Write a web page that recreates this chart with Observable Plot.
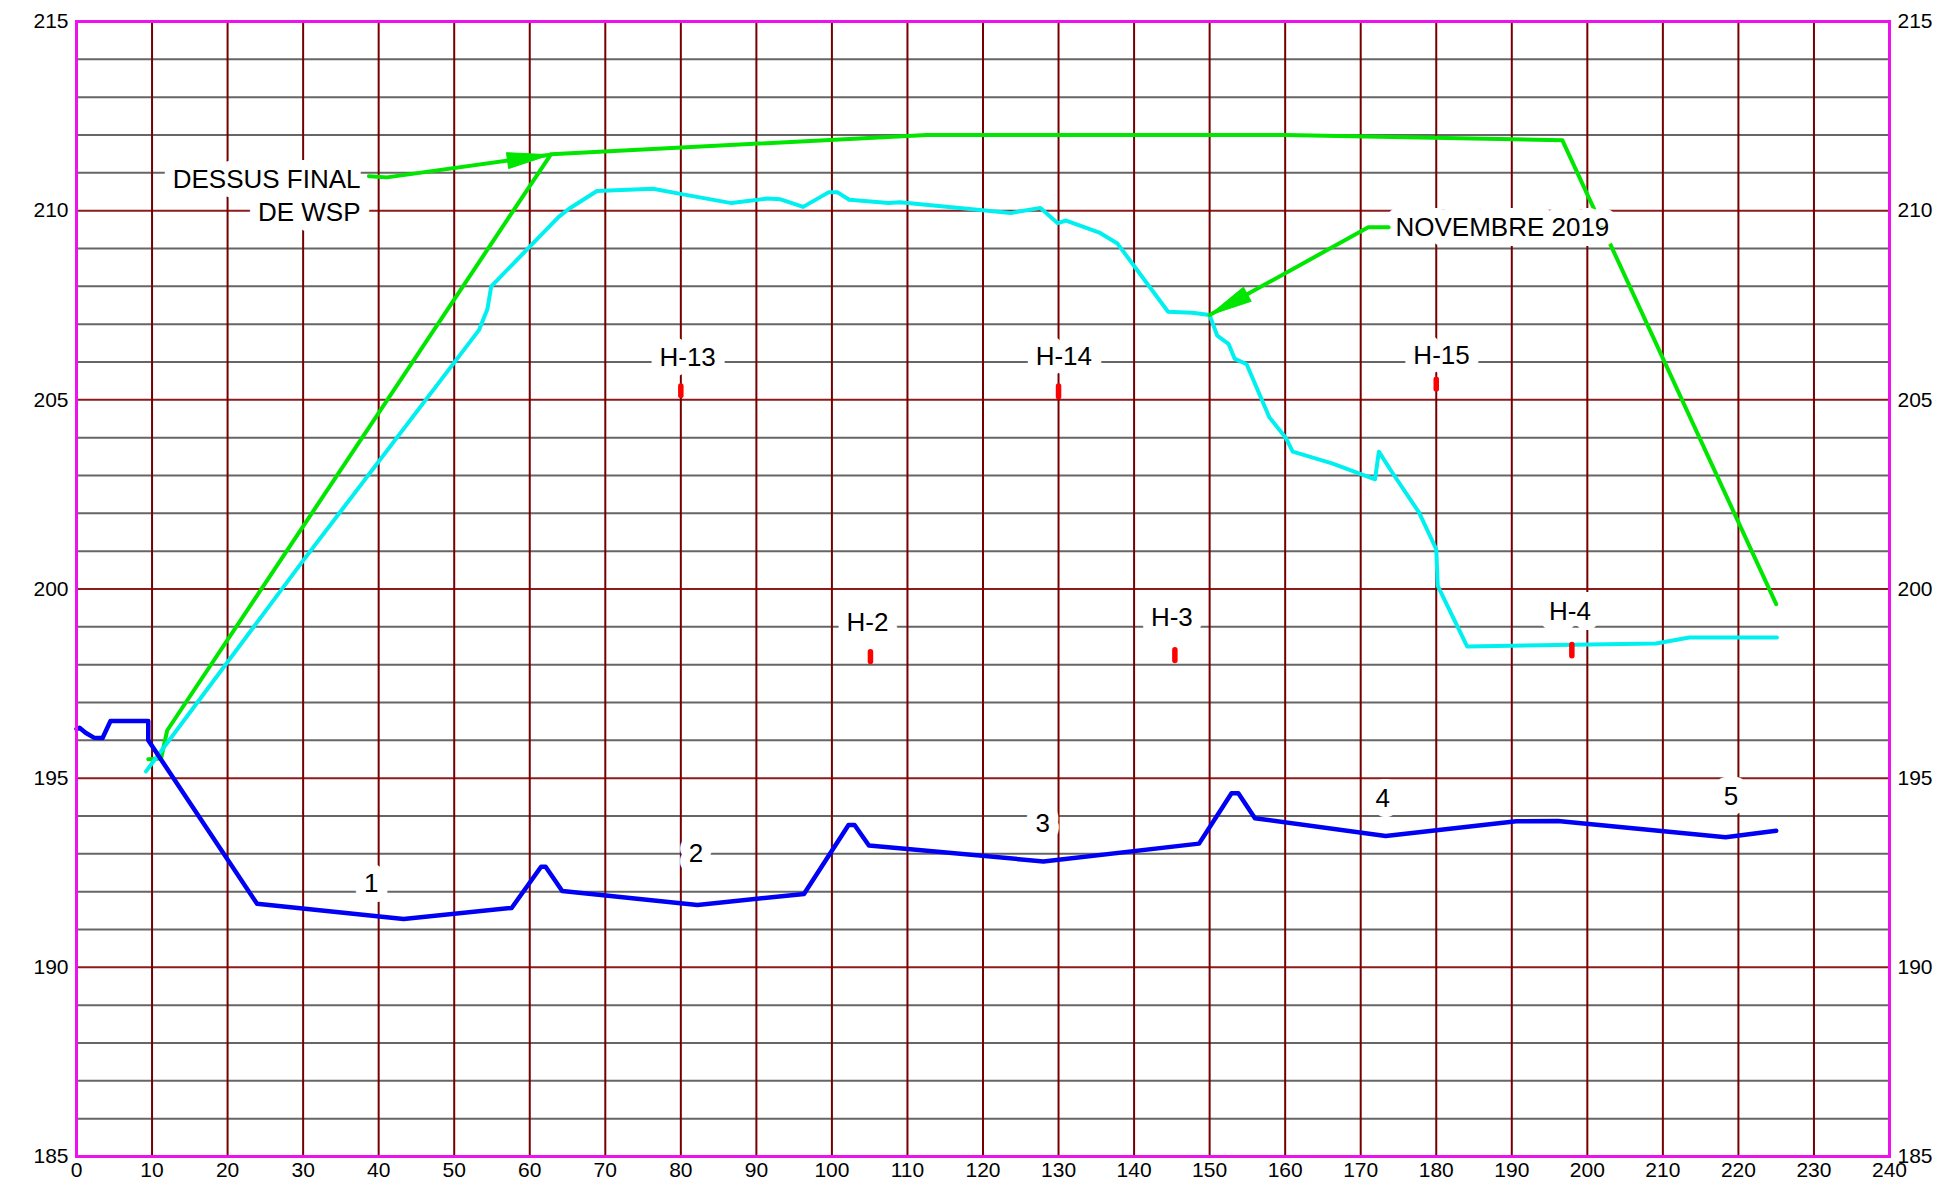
<!DOCTYPE html>
<html><head><meta charset="utf-8">
<script src="https://cdn.jsdelivr.net/npm/d3@7"></script>
<script src="https://cdn.jsdelivr.net/npm/@observablehq/plot@0.6"></script>
<style>body{margin:0;background:#fff}</style>
</head><body><div id="chart"></div>
<script>
// ---------- data ----------
const xTickValues = [0,10,20,30,40,50,60,70,80,90,100,110,120,130,140,150,160,170,180,190,200,210,220,230,240];
const yTickValues = [185,190,195,200,205,210,215];
const yMinorGrid = [186,187,188,189,191,192,193,194,196,197,198,199,201,202,203,204,206,207,208,209,211,212,213,214];
const yMajorGrid = [190,195,200,205,210];
const xGrid = [10,20,30,40,50,60,70,80,90,100,110,120,130,140,150,160,170,180,190,200,210,220,230];

// ground profile (blue)
const groundX = [0,0.4,1.2,2.3,3.45,4.5,9.5,9.5,23.9,43.3,57.6,61.5,62.1,64.3,82.2,96.3,102.2,103.0,104.9,128.0,148.6,152.9,153.8,156.0,173.3,190.6,196.1,218.3,225.0];
const groundY = [196.3,196.33,196.2,196.07,196.06,196.51,196.51,196.0,191.68,191.28,191.57,192.66,192.66,192.02,191.65,191.94,193.76,193.76,193.22,192.8,193.27,194.6,194.6,193.94,193.47,193.86,193.87,193.44,193.61];

// final top of WSP (green)
const finalX = [9.5,11.2,12.0,62.8,112.6,160.0,196.7,225.0];
const finalY = [195.5,195.52,196.26,211.49,212.0,212.0,211.86,199.6];

// November 2019 survey (cyan)
const novX = [9.2,30.0,53.3,54.4,54.9,63.8,65.2,68.9,76.3,80.3,86.7,91.4,93.2,96.2,99.6,100.7,102.3,107.5,109.0,123.7,127.6,129.9,131.0,135.5,137.8,144.5,147.7,150.0,151.0,152.5,153.3,154.9,157.9,160.1,161.0,166.2,171.9,172.4,174.3,177.7,180.0,180.2,184.1,209.1,213.5,225.1];
const novY = [195.18,200.75,206.85,207.4,208.0,209.83,210.05,210.52,210.58,210.43,210.2,210.32,210.3,210.1,210.49,210.49,210.29,210.2,210.22,209.94,210.07,209.67,209.74,209.41,209.13,207.33,207.3,207.24,206.7,206.48,206.09,205.94,204.54,203.99,203.63,203.32,202.9,203.63,203.04,202.03,201.05,200.08,198.48,198.56,198.72,198.72];

// boreholes
const boreholeNames = ["H-13","H-14","H-15","H-2","H-3","H-4"];
const boreholeX = [80,130,180,105.1,145.4,197.95];
const boreholeTop = [205.35,205.35,205.53,198.33,198.38,198.52];
const boreholeBottom = [205.1,205.07,205.27,198.07,198.1,198.22];
const boreholeLabelX = [80.9,130.7,180.7,104.7,145.0,197.7];
const boreholeLabelY = [206.11,206.13,206.17,199.11,199.25,199.41];

// section numbers
const sectionNames = ["1","2","3","4","5"];
const sectionX = [39.0,82.0,127.9,172.9,219.0];
const sectionY = [192.2,193.0,193.8,194.45,194.5];

// annotations
const annoDessusText = "DESSUS FINAL\nDE WSP";
const annoDessusX = 37.6, annoDessusY = 210.44;
const annoNovText = "NOVEMBRE 2019";
const annoNovX = 174.6, annoNovY = 209.55;
const leaderDessusX = [38.7,41.1,62.7];
const leaderDessusY = [210.91,210.88,211.48];
const leaderNovX = [173.7,171.0,150.0];
const leaderNovY = [209.56,209.56,207.24];

// ---------- layout / style ----------
const W = 1939, H = 1193;
const mL = 76, mR = 50, mT = 21, mB = 37;
const GREEN = "#00e600", CYAN = "#00f0f0", BLUE = "#0000f5";
const FONT = "'Liberation Sans', Arial, Helvetica, sans-serif";

const zip = (xs, ys) => xs.map((x, i) => ({x, y: ys[i]}));
const ground = zip(groundX, groundY);
const finalTop = zip(finalX, finalY);
const nov = zip(novX, novY);
const boreholes = boreholeNames.map((n, i) => ({name: n, x: boreholeX[i], y1: boreholeBottom[i], y2: boreholeTop[i], lx: boreholeLabelX[i], ly: boreholeLabelY[i]}));
const sections = sectionNames.map((n, i) => ({name: n, x: sectionX[i], y: sectionY[i]}));
const leaderDessus = zip(leaderDessusX, leaderDessusY);
const leaderNov = zip(leaderNovX, leaderNovY);

// scales used to orient arrowheads
const sx = Plot.scale({x: {domain: [0, 240], range: [mL, W - mR]}});
const sy = Plot.scale({y: {domain: [185, 215], range: [H - mB, mT]}});
function headAt(pts) {
  const a = pts[pts.length - 2], t = pts[pts.length - 1];
  const dx = sx.apply(t.x) - sx.apply(a.x);
  const dy = sy.apply(t.y) - sy.apply(a.y);
  return {x: t.x, y: t.y, rotate: Math.atan2(dx, -dy) * 180 / Math.PI};
}
const heads = [headAt(leaderDessus), headAt(leaderNov)];
const headShape = {
  draw(context, l, r) {
    context.moveTo(0, 0);
    context.lineTo(-r, l);
    context.lineTo(r, l);
    context.closePath();
  }
};

const chart = Plot.plot({
  width: W, height: H,
  marginLeft: mL, marginRight: mR, marginTop: mT, marginBottom: mB,
  x: {domain: [0, 240]},
  y: {domain: [185, 215]},
  style: {fontFamily: FONT, fontSize: "21px", color: "black", background: "white", overflow: "visible"},
  marks: [
    Plot.ruleY(yMinorGrid, {stroke: "#666666", strokeWidth: 2}),
    Plot.ruleY(yMajorGrid, {stroke: "#8c1c1c", strokeWidth: 2}),
    Plot.ruleX(xGrid, {stroke: "#760000", strokeWidth: 2}),
    Plot.line(finalTop, {x: "x", y: "y", stroke: GREEN, strokeWidth: 4}),
    Plot.line(nov, {x: "x", y: "y", stroke: CYAN, strokeWidth: 4}),
    Plot.line(ground, {x: "x", y: "y", stroke: BLUE, strokeWidth: 4.5}),
    Plot.text(boreholes, {x: "lx", y: "ly", text: "name", fontSize: 26, fill: "black", stroke: "white", strokeWidth: 20}),
    Plot.text(sections, {x: "x", y: "y", text: "name", fontSize: 26, fill: "black", stroke: "white", strokeWidth: 20}),
    Plot.text([annoDessusText], {x: annoDessusX, y: annoDessusY, text: d => d, textAnchor: "end", lineHeight: 1.28, fontSize: 26, fill: "black", stroke: "white", strokeWidth: 20}),
    Plot.text([annoNovText], {x: annoNovX, y: annoNovY, text: d => d, textAnchor: "start", fontSize: 26, fill: "black", stroke: "white", strokeWidth: 20}),
    Plot.line(leaderDessus, {x: "x", y: "y", stroke: GREEN, strokeWidth: 4}),
    Plot.line(leaderNov, {x: "x", y: "y", stroke: GREEN, strokeWidth: 4}),
    Plot.vector(heads, {x: "x", y: "y", rotate: "rotate", length: 43, r: 8, anchor: "start", shape: headShape, fill: GREEN, stroke: GREEN, strokeWidth: 1}),
    Plot.ruleX(boreholes, {x: "x", y1: "y1", y2: "y2", stroke: "#ff0000", strokeWidth: 5.5, strokeLinecap: "round"}),
    Plot.frame({stroke: "#ee11ee", strokeWidth: 3}),
    Plot.axisY(yTickValues, {anchor: "left", tickSize: 0, tickPadding: 8, fontSize: 21, label: null}),
    Plot.axisY(yTickValues, {anchor: "right", tickSize: 0, tickPadding: 8, fontSize: 21, label: null}),
    Plot.axisX(xTickValues, {anchor: "bottom", tickSize: 0, tickPadding: 6, fontSize: 21, label: null})
  ]
});
document.getElementById("chart").appendChild(chart);
</script>
</body></html>
